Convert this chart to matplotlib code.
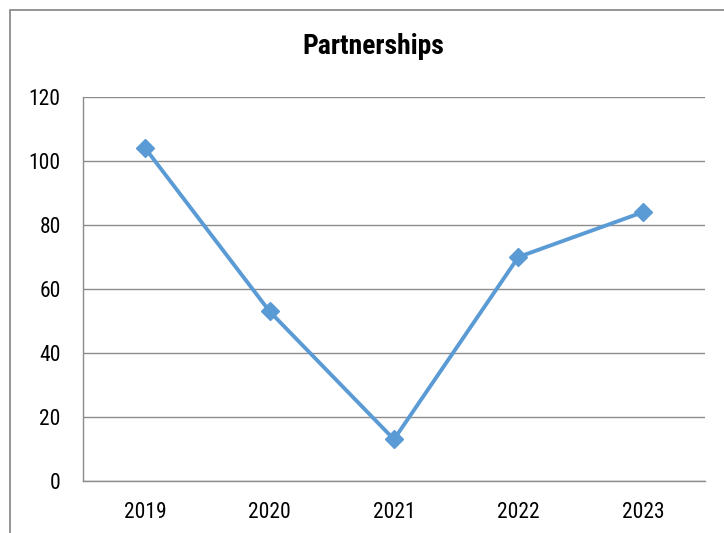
import matplotlib
matplotlib.use("Agg")
import matplotlib.pyplot as plt
from matplotlib.patches import Rectangle
from matplotlib import font_manager

# chart data
years = ["2019", "2020", "2021", "2022", "2023"]
partnerships = [104, 53, 13, 70, 84]
y_ticks = [0, 20, 40, 60, 80, 100, 120]

# narrow sans to mimic the original chart font
names = {f.name for f in font_manager.fontManager.ttflist}
font = "Liberation Sans"
for cand in ["Liberation Sans Narrow", "Roboto Condensed", "DejaVu Sans Condensed"]:
    if cand in names:
        font = cand
        break
plt.rcParams['font.family'] = [font, 'DejaVu Sans']

fig = plt.figure(figsize=(7.24, 5.33), dpi=100)
ax = fig.add_axes([0.1146, 0.0976, 0.8592, 0.7204])

# outer chart border (cut off at right and bottom)
fig.patches.append(Rectangle((10 / 724, -0.1), 1.2, 1 - 10 / 533 + 0.1,
                             transform=fig.transFigure, fill=False,
                             edgecolor="#8c8c8c", linewidth=1.3))

x = list(range(len(years)))
ax.plot(x, partnerships, color="#5b9bd5", linewidth=2.8, marker="D",
        markersize=9.5, zorder=3)

ax.set_xlim(-0.5, len(years) - 0.5)
ax.set_ylim(0, 120)
ax.set_yticks(y_ticks)
ax.set_xticks(x)
ax.set_xticklabels(years)
ax.yaxis.grid(True, color="#8c8c8c", linewidth=1)
ax.set_axisbelow(True)

for side in ["top", "right"]:
    ax.spines[side].set_visible(False)
for side in ["left", "bottom"]:
    ax.spines[side].set_color("#8c8c8c")
    ax.spines[side].set_linewidth(1)

ax.tick_params(length=0, labelsize=15.5, colors="black")
ax.tick_params(axis="x", pad=15)
ax.tick_params(axis="y", pad=16)

fig.text(373 / 724, 1 - 47 / 533, "Partnerships", ha="center", va="center",
         fontsize=20, fontweight="bold")

fig.savefig("out.png", dpi=100)
